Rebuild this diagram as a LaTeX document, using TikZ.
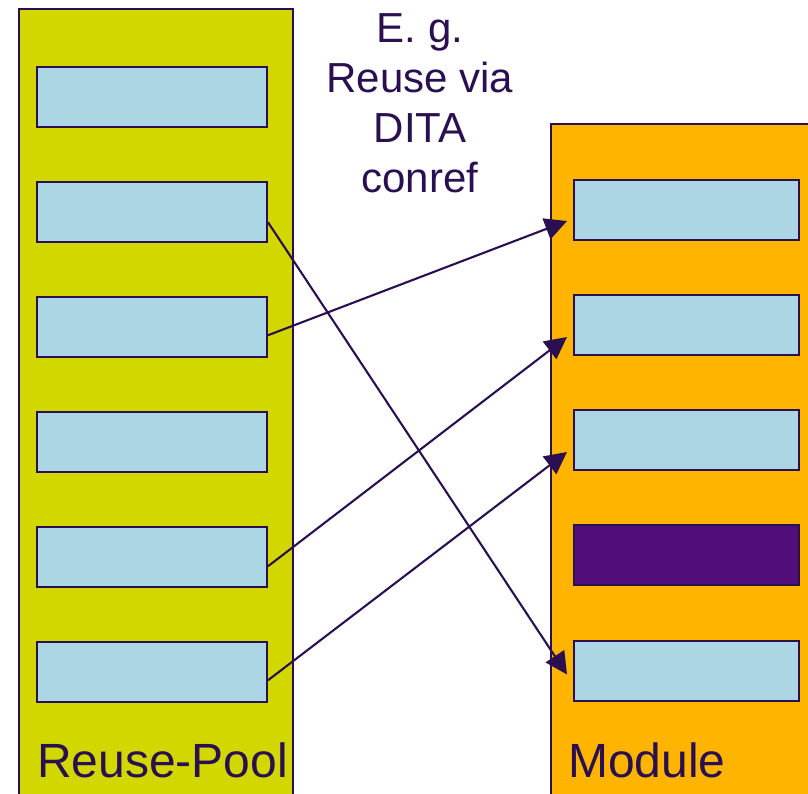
\documentclass[tikz,border=0pt]{standalone}
\usepackage{fontspec}
\setmainfont{Liberation Sans}
\usetikzlibrary{arrows.meta,calc}
\definecolor{dk}{RGB}{42,16,80}
\definecolor{poolfill}{RGB}{210,215,0}
\definecolor{modfill}{RGB}{255,180,0}
\definecolor{boxfill}{RGB}{172,214,227}
\definecolor{boxdark}{RGB}{81,14,123}
\tikzset{
  panel/.style={draw=dk,line width=2pt},
  lbox/.style={draw=dk,line width=2pt,fill=boxfill,minimum width=230pt,minimum height=59.5pt,inner sep=0pt},
  rbox/.style={draw=dk,line width=2pt,fill=boxfill,minimum width=225pt,minimum height=60pt,inner sep=0pt},
  link/.style={draw=dk,line width=2.1pt,-{Triangle[length=22pt,width=22pt]}},
  bigtext/.style={text=dk,inner sep=0pt,font=\fontsize{48}{52}\selectfont},
}
\begin{document}
\begin{tikzpicture}[x=1pt,y=-1pt]
\useasboundingbox (0,0) rectangle (808,793);
\clip (0,0) rectangle (808,793);
% panels
\path[panel,fill=poolfill] (19,9) rectangle (293,810);
\path[panel,fill=modfill] (551,124) rectangle (820,810);
% left boxes
\foreach \i in {1,...,6}{
  \node[lbox] (L\i) at (152,{67+115*(\i-1)+29.75}) {};
}
% right boxes
\node[rbox] (R1) at (686.5,210) {};
\node[rbox] (R2) at (686.5,325) {};
\node[rbox] (R3) at (686.5,440) {};
\node[rbox,fill=boxdark] (R4) at (686.5,555) {};
\node[rbox] (R5) at (686.5,670.5) {};
% labels
\node[bigtext,anchor=base west] (pool) at (37,777) {Reuse-Pool};
\node[bigtext,anchor=base west] (mod) at (568,777) {Module};
\node[text=dk,inner sep=0pt,anchor=north,align=center,font=\fontsize{42}{50}\selectfont] (note) at (420,13) {E. g.\\Reuse via\\DITA\\conref};
% connectors
\draw[link] ($(L2.east)+(0,10.5)$) -- ($(R5.west)+(-6,4)$);
\draw[link] ($(L3.east)+(0,8.5)$) -- ($(R1.west)+(-6,11)$);
\draw[link] ($(L5.east)+(0,9.5)$) -- ($(R2.west)+(-6,12)$);
\draw[link] ($(L6.east)+(0,8.5)$) -- ($(R3.west)+(-6,12)$);
\end{tikzpicture}
\end{document}
